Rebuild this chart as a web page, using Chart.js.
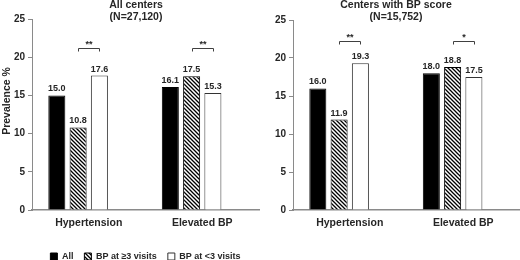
<!DOCTYPE html>
<html>
<head>
<meta charset="utf-8">
<script src="https://cdn.jsdelivr.net/npm/chart.js@4.4.0/dist/chart.umd.min.js"></script>
<style>
html, body { margin: 0; padding: 0; background: #fff; }
#wrap { position: relative; width: 520px; height: 260px; }
#chartAll { position: absolute; left: 0; top: 0; }
#chartScore { position: absolute; left: 272px; top: 0; }
</style>
</head>
<body>
<div id="wrap">
  <canvas id="chartAll" width="272" height="260"></canvas>
  <canvas id="chartScore" width="248" height="260"></canvas>
</div>
<script>
var categories = ['Hypertension', 'Elevated BP'];
var seriesNames = ['All', 'BP at \u22653 visits', 'BP at <3 visits'];
var yTicks = [0, 5, 10, 15, 20, 25];

// All centers (N=27,120)
var allCentersAll = [15.0, 16.1];
var allCentersAtLeast3 = [10.8, 17.5];
var allCentersUnder3 = [17.6, 15.3];
var allCentersStars = ['**', '**'];
var allCentersStarLevel = [21.2, 21.2];

// Centers with BP score (N=15,752)
var scoreCentersAll = [16.0, 18.0];
var scoreCentersAtLeast3 = [11.9, 18.8];
var scoreCentersUnder3 = [19.3, 17.5];
var scoreCentersStars = ['**', '*'];
var scoreCentersStarLevel = [22.2, 22.2];

var fontFamily = '"Liberation Sans", Arial, sans-serif';
var textColor = '#262626';
var axisColor = '#8a8a8a';

function hatchPattern() {
    var c = document.createElement('canvas');
    c.width = 4;
    c.height = 4;
    var g = c.getContext('2d');
    g.fillStyle = '#fff';
    g.fillRect(0, 0, 4, 4);
    g.strokeStyle = '#000';
    g.lineWidth = 1.3;
    g.beginPath();
    g.moveTo(-1, -1); g.lineTo(5, 5);
    g.moveTo(3, -1); g.lineTo(5, 1);
    g.moveTo(-1, 3); g.lineTo(1, 5);
    g.stroke();
    return g.createPattern(c, 'repeat');
}

var decorPlugin = {
    id: 'decor',
    afterDatasetsDraw: function(chart, args, opts) {
        var ctx = chart.ctx;
        ctx.save();
        ctx.fillStyle = textColor;
        ctx.textAlign = 'center';

        // value labels above bars
        ctx.font = 'bold 9px ' + fontFamily;
        ctx.textBaseline = 'bottom';
        chart.data.datasets.forEach(function(ds, i) {
            var meta = chart.getDatasetMeta(i);
            meta.data.forEach(function(bar, j) {
                if (ds.data[j] == null) return;
                ctx.fillText(ds.data[j].toFixed(1), bar.x, bar.y - 2);
            });
        });

        // significance brackets between the two BP groups
        var yScale = chart.scales.y;
        var m1 = chart.getDatasetMeta(1);
        var m2 = chart.getDatasetMeta(2);
        ctx.strokeStyle = '#404040';
        ctx.lineWidth = 1;
        opts.stars.forEach(function(s, j) {
            var x1 = Math.round(m1.data[j].x) + 0.5;
            var x2 = Math.round(m2.data[j].x) + 0.5;
            var y = Math.round(yScale.getPixelForValue(opts.levels[j])) + 0.5;
            ctx.beginPath();
            ctx.moveTo(x1, y + 3);
            ctx.lineTo(x1, y);
            ctx.lineTo(x2, y);
            ctx.lineTo(x2, y + 3);
            ctx.stroke();
            ctx.fillText(s, (x1 + x2) / 2, y + 1);
        });

        // two-line title
        ctx.font = 'bold 10.5px ' + fontFamily;
        ctx.textBaseline = 'middle';
        opts.title.forEach(function(line, k) {
            ctx.fillText(line, chart.width / 2, 5 + k * 12);
        });

        if (opts.yTitle) {
            ctx.translate(7, 101);
            ctx.rotate(-Math.PI / 2);
            ctx.fillText(opts.yTitle, 0, 0);
        }
        ctx.restore();
    }
};

function makeDatasets(a, b, c) {
    return [
        { label: seriesNames[0], data: a, backgroundColor: '#000', borderColor: '#000', borderWidth: 1 },
        { label: seriesNames[1], data: b, backgroundColor: hatchPattern(), borderColor: '#000', borderWidth: 1 },
        { label: seriesNames[2], data: c, backgroundColor: '#fff', borderColor: '#333', borderWidth: 1 },
        // empty slot kept so the groups sit left of the category centre, as in the source
        { label: '', data: [null, null], backgroundColor: 'rgba(0,0,0,0)', borderWidth: 0 }
    ];
}

function generateChart(id, datasets, opts) {
    var ctx = document.getElementById(id).getContext('2d');
    new Chart(ctx, {
        type: 'bar',
        data: { labels: categories, datasets: datasets },
        plugins: [decorPlugin],
        options: {
            responsive: false,
            animation: false,
            devicePixelRatio: 1,
            layout: { padding: opts.padding },
            datasets: { bar: { categoryPercentage: 0.75, barPercentage: 0.8 } },
            scales: {
                x: {
                    grid: { display: false, drawTicks: false },
                    border: { color: axisColor, width: 1.5 },
                    ticks: { color: textColor, padding: 7, font: { family: fontFamily, size: 10.5, weight: 'bold' } },
                    afterFit: function(s) { s.height = opts.xHeight; }
                },
                y: {
                    min: 0,
                    max: 25,
                    afterBuildTicks: function(s) { s.ticks = yTicks.map(function(v) { return { value: v }; }); },
                    grid: { drawOnChartArea: false, drawTicks: true, tickLength: 4, color: axisColor },
                    border: { color: axisColor, width: 1 },
                    ticks: { color: textColor, padding: 3, font: { family: fontFamily, size: 10, weight: 'bold' } },
                    afterFit: function(s) { s.width = opts.yWidth; }
                }
            },
            plugins: {
                title: { display: false },
                tooltip: { enabled: false },
                legend: {
                    display: opts.legend,
                    position: 'bottom',
                    fullSize: false,
                    labels: {
                        boxWidth: 7,
                        boxHeight: 7,
                        padding: 11,
                        color: textColor,
                        font: { family: fontFamily, size: 9, weight: 'bold' },
                        filter: function(item) { return item.datasetIndex < 3; }
                    }
                },
                decor: { title: opts.title, yTitle: opts.yTitle, stars: opts.stars, levels: opts.levels }
            }
        }
    });
}

document.addEventListener('DOMContentLoaded', function() {
    generateChart('chartAll',
        makeDatasets(allCentersAll, allCentersAtLeast3, allCentersUnder3),
        { padding: { top: 19, left: 0, right: 13, bottom: -11 }, yWidth: 32, xHeight: 31, legend: true,
          title: ['All centers', '(N=27,120)'], yTitle: 'Prevalence %',
          stars: allCentersStars, levels: allCentersStarLevel });
    generateChart('chartScore',
        makeDatasets(scoreCentersAll, scoreCentersAtLeast3, scoreCentersUnder3),
        { padding: { top: 20, left: 0, right: 0, bottom: 20 }, yWidth: 21, xHeight: 30, legend: false,
          title: ['Centers with BP score', '(N=15,752)'], yTitle: null,
          stars: scoreCentersStars, levels: scoreCentersStarLevel });
});
</script>
</body>
</html>
